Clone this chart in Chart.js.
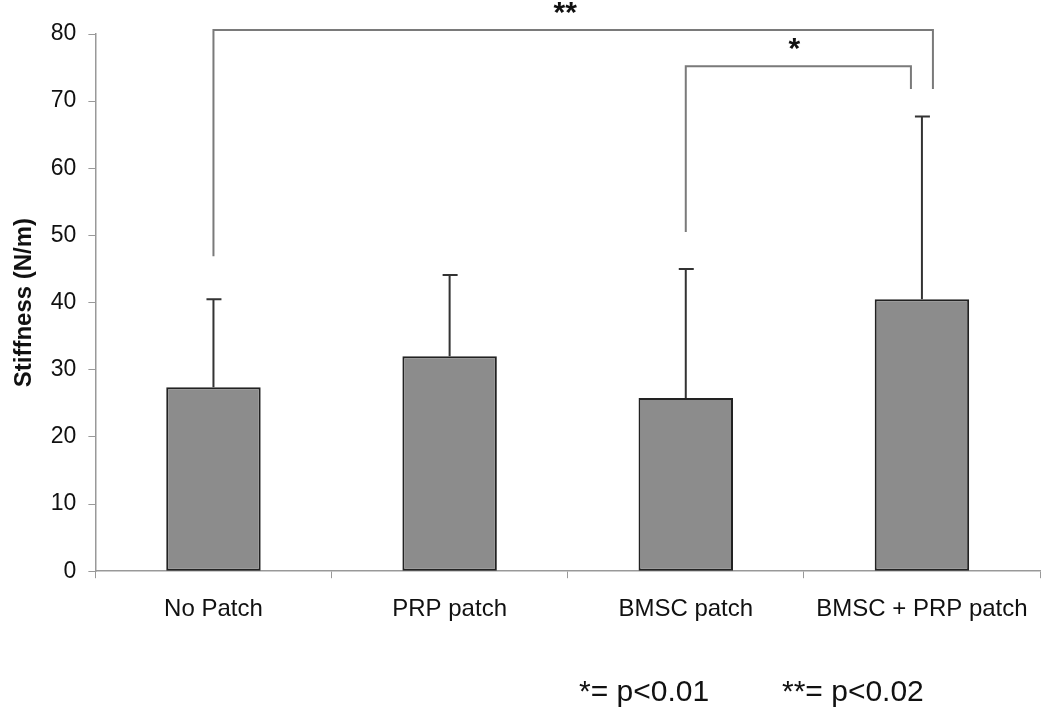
<!DOCTYPE html>
<html>
<head>
<meta charset="utf-8">
<script src="https://cdn.jsdelivr.net/npm/chart.js@4.4.1/dist/chart.umd.min.js"></script>
<style>
  html, body { margin: 0; padding: 0; background: #fff; }
  #wrap { width: 1050px; height: 718px; position: relative; }
</style>
</head>
<body>
<div id="wrap"><canvas id="stiffness"></canvas></div>
<script>
const groups = ['No Patch', 'PRP patch', 'BMSC patch', 'BMSC + PRP patch'];
const stiffness = [27.4, 32.0, 25.8, 40.5];
const errTop = [40.5, 44.1, 45.0, 67.7];
const yTicks = [0, 10, 20, 30, 40, 50, 60, 70, 80];

// significance brackets: from / to group index, leg start values, bar level, label
const brackets = [
    { from: 0, to: 3, left: 46.9, right: 71.8, top: 80.6, label: '**' },
    { from: 2, to: 3, left: 50.5, right: 71.8, top: 75.2, label: '*' },
];
const footnotes = ['*= p<0.01', '**= p<0.02'];

const font = '"Liberation Sans", Arial, sans-serif';
const lineGrey = '#7a7a7a';

const extras = {
    id: 'extras',
    afterDatasetsDraw(chart) {
        const ctx = chart.ctx;
        const y = chart.scales.y;
        const meta = chart.getDatasetMeta(0);

        // error bars (upper only)
        ctx.save();
        ctx.strokeStyle = '#333';
        ctx.lineWidth = 2;
        meta.data.forEach((bar, i) => {
            const top = y.getPixelForValue(errTop[i]);
            ctx.beginPath();
            ctx.moveTo(bar.x, bar.y);
            ctx.lineTo(bar.x, top);
            ctx.moveTo(bar.x - 7, top);
            ctx.lineTo(bar.x + 8, top);
            ctx.stroke();
        });
        ctx.restore();

        // brackets
        ctx.save();
        ctx.strokeStyle = lineGrey;
        ctx.lineWidth = 2;
        ctx.fillStyle = '#111';
        ctx.font = 'bold 30px ' + font;
        ctx.textAlign = 'center';
        ctx.textBaseline = 'middle';
        brackets.forEach((b, k) => {
            const x1 = meta.data[b.from].x;
            const x2 = meta.data[b.to].x + (k === 0 ? 11 : -11);
            const yt = y.getPixelForValue(b.top);
            ctx.beginPath();
            ctx.moveTo(x1, y.getPixelForValue(b.left));
            ctx.lineTo(x1, yt);
            ctx.lineTo(x2, yt);
            ctx.lineTo(x2, y.getPixelForValue(b.right));
            ctx.stroke();
            const cx = (x1 + x2) / 2 + (k === 0 ? -8 : -4);
            ctx.fillText(b.label, cx, yt - 16);
        });

        // footnote
        ctx.font = '30px ' + font;
        ctx.textAlign = 'left';
        ctx.fillStyle = '#111';
        ctx.fillText(footnotes[0], 579, 693);
        ctx.fillText(footnotes[1], 782, 693);
        ctx.restore();
    }
};

const config = {
    type: 'bar',
    data: {
        labels: groups,
        datasets: [{
            data: stiffness,
            backgroundColor: '#8c8c8c',
            borderColor: '#222',
            borderWidth: 2,
            borderSkipped: false,
            barPercentage: 0.40,
            categoryPercentage: 1.0,
        }]
    },
    options: {
        responsive: false,
        animation: false,
        layout: {
            padding: { left: 8, right: 10, top: 34, bottom: 77 }
        },
        plugins: {
            legend: { display: false },
            tooltip: { enabled: false }
        },
        scales: {
            x: {
                grid: {
                    display: true,
                    drawOnChartArea: false,
                    drawTicks: true,
                    tickLength: 7,
                    color: '#999'
                },
                border: { color: '#999', width: 1.5 },
                ticks: {
                    color: '#111',
                    padding: 17,
                    font: { family: font, size: 24 }
                }
            },
            y: {
                min: 0,
                max: 80,
                afterBuildTicks: (axis) => { axis.ticks = yTicks.map(v => ({ value: v })); },
                grid: {
                    display: true,
                    drawOnChartArea: false,
                    drawTicks: true,
                    tickLength: 7,
                    color: '#999'
                },
                border: { color: '#999', width: 1.5 },
                ticks: {
                    color: '#111',
                    padding: 12,
                    font: { family: font, size: 23 }
                },
                title: {
                    display: true,
                    text: 'Stiffness (N/m)',
                    color: '#111',
                    padding: { top: 2, bottom: 0 },
                    font: { family: font, size: 24, weight: 'bold' }
                }
            }
        }
    },
    plugins: [extras]
};

const canvas = document.getElementById('stiffness');
canvas.width = 1050;
canvas.height = 718;
const stiffnessChart = new Chart(canvas, config);
</script>
</body>
</html>
